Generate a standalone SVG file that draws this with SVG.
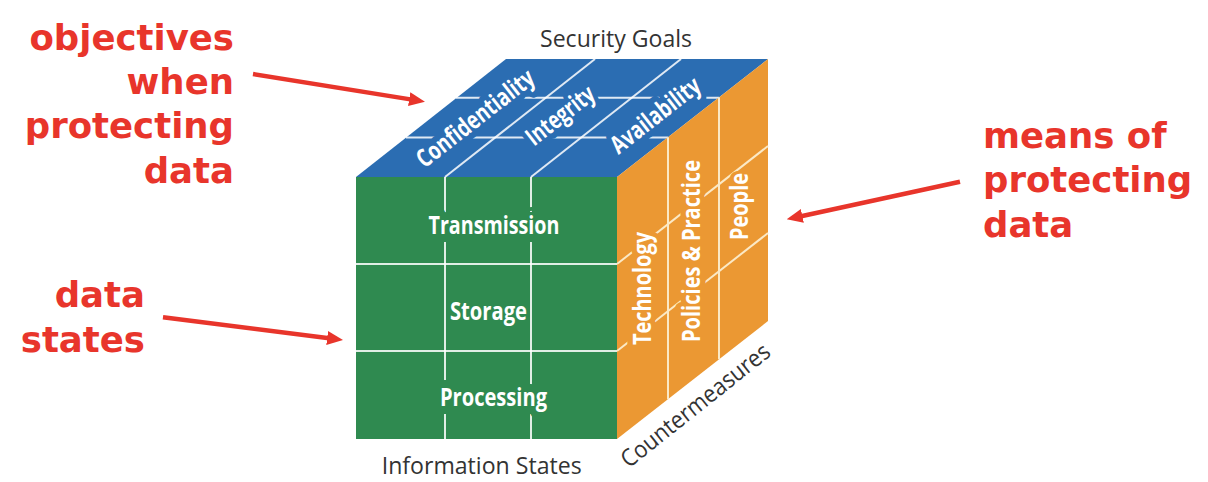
<svg xmlns="http://www.w3.org/2000/svg" width="1208" height="482" viewBox="0 0 1208 482">
<defs>
<style>
.grid{stroke:#ffffff;stroke-width:2;stroke-opacity:0.85;fill:none}
.grido{stroke:#fbe9c6;stroke-width:2;fill:none}
.lbl{font-family:"Open Sans","DejaVu Sans",sans-serif;font-weight:700;font-size:25px;fill:#ffffff;text-anchor:middle;paint-order:stroke;stroke-linejoin:round}
.axis{font-family:"Open Sans","DejaVu Sans",sans-serif;font-size:24px;fill:#333333;text-anchor:middle}
.note{font-family:"DejaVu Sans",Verdana,sans-serif;font-weight:700;font-size:35.5px;fill:#e8352b}
.arrow{stroke:#e8352b;stroke-width:4.5;fill:none}
</style>
<marker id="ah" markerUnits="userSpaceOnUse" markerWidth="16" markerHeight="14" refX="6" refY="7" orient="auto">
<path d="M0,0 L16,7 L0,14 z" fill="#e8352b"/>
</marker>
</defs>
<rect width="1208" height="482" fill="#ffffff"/>

<g id="front-face">
<polygon points="356,177 617,177 617,439 356,439" fill="#2f8a50"/>
<line class="grid" x1="445" y1="177" x2="445" y2="439"/>
<line class="grid" x1="531" y1="177" x2="531" y2="439"/>
<line class="grid" x1="356" y1="264" x2="617" y2="264"/>
<line class="grid" x1="356" y1="351" x2="617" y2="351"/>
<text class="lbl" x="494" y="234" textLength="131" lengthAdjust="spacingAndGlyphs" stroke="#2f8a50" stroke-width="16">Transmission</text>
<text class="lbl" x="488.5" y="320" textLength="77" lengthAdjust="spacingAndGlyphs" stroke="#2f8a50" stroke-width="3">Storage</text>
<text class="lbl" x="493.5" y="406" textLength="107" lengthAdjust="spacingAndGlyphs" stroke="#2f8a50" stroke-width="16">Processing</text>
</g>

<g id="top-face">
<polygon points="356,177 506,59 768,59 617,177" fill="#2b6db2"/>
<line class="grid" x1="445" y1="177" x2="595" y2="59"/>
<line class="grid" x1="531" y1="177" x2="681" y2="59"/>
<line class="grid" x1="406" y1="137.5" x2="668" y2="137.5"/>
<line class="grid" x1="456" y1="97.8" x2="719" y2="97.8"/>
<text class="lbl" transform="translate(475,118) rotate(-38)" x="0" y="9" textLength="142" lengthAdjust="spacingAndGlyphs" stroke="#2b6db2" stroke-width="12">Confidentiality</text>
<text class="lbl" transform="translate(560,115) rotate(-38)" x="0" y="9" textLength="80" lengthAdjust="spacingAndGlyphs" stroke="#2b6db2" stroke-width="12">Integrity</text>
<text class="lbl" transform="translate(655,115) rotate(-38)" x="0" y="9" textLength="107" lengthAdjust="spacingAndGlyphs" stroke="#2b6db2" stroke-width="12">Availability</text>
</g>

<g id="right-face">
<polygon points="617,177 768,59 768,321 617,439" fill="#eb9833"/>
<line class="grido" x1="668" y1="137.2" x2="668" y2="399.2"/>
<line class="grido" x1="719" y1="97.3" x2="719" y2="359.3"/>
<line class="grido" x1="617" y1="264" x2="768" y2="146"/>
<line class="grido" x1="617" y1="351" x2="768" y2="233"/>
<text class="lbl" transform="translate(642,288.5) rotate(-90)" x="0" y="9" textLength="113" lengthAdjust="spacingAndGlyphs" stroke="#eb9833" stroke-width="11">Technology</text>
<text class="lbl" transform="translate(691,251) rotate(-90)" x="0" y="9" textLength="182" lengthAdjust="spacingAndGlyphs" stroke="#eb9833" stroke-width="11">Policies &amp; Practice</text>
<text class="lbl" transform="translate(739,206.5) rotate(-90)" x="0" y="9" textLength="67" lengthAdjust="spacingAndGlyphs" stroke="#eb9833" stroke-width="8">People</text>
</g>

<g id="axis-labels">
<text class="axis" x="616" y="47" textLength="152" lengthAdjust="spacingAndGlyphs">Security Goals</text>
<text class="axis" x="481.7" y="474" textLength="200" lengthAdjust="spacingAndGlyphs">Information States</text>
<text class="axis" transform="translate(695.5,405.5) rotate(-38.5)" x="0" y="8" textLength="183" lengthAdjust="spacingAndGlyphs">Countermeasures</text>
</g>

<g id="note-objectives">
<text class="note" text-anchor="end" x="234" y="50">objectives</text>
<text class="note" text-anchor="end" x="234" y="94">when</text>
<text class="note" text-anchor="end" x="234" y="138">protecting</text>
<text class="note" text-anchor="end" x="234" y="183">data</text>
</g>

<g id="note-states">
<text class="note" text-anchor="end" x="145" y="307">data</text>
<text class="note" text-anchor="end" x="145" y="352">states</text>
</g>

<g id="note-means">
<text class="note" x="983" y="148">means of</text>
<text class="note" x="983" y="192">protecting</text>
<text class="note" x="983" y="237">data</text>
</g>

<g id="connectors">
<line class="arrow" x1="253" y1="74" x2="415.1" y2="100.1" marker-end="url(#ah)"/>
<line class="arrow" x1="163" y1="317.3" x2="333.1" y2="338.75" marker-end="url(#ah)"/>
<line class="arrow" x1="960" y1="181.7" x2="796.5" y2="217.2" marker-end="url(#ah)"/>
</g>
</svg>
